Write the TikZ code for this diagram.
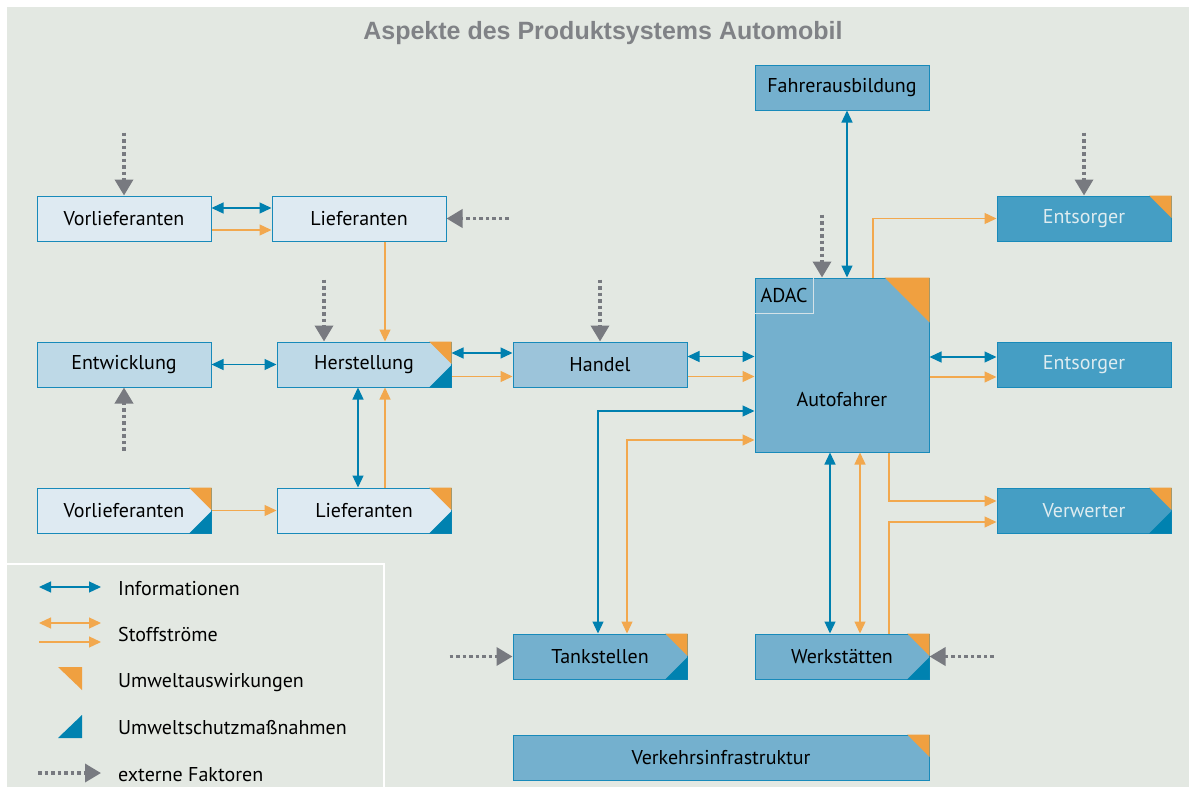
\documentclass[tikz,border=0pt]{standalone}
\usepackage{fontspec}
\setmainfont{PT Sans}
\newfontfamily\titlefont{Liberation Sans}
\usetikzlibrary{arrows.meta}

\begin{document}
\begin{tikzpicture}[x=1pt,y=-1pt,
  box/.style={draw=edge,line width=1pt,minimum width=174pt,minimum height=45pt,inner sep=0pt,
    font=\fontsize{20}{24}\selectfont,text=black},
  info/.style={infoblue,line width=1.3pt,{Triangle[length=12pt,width=11pt]}-{Triangle[length=12pt,width=11pt]}},
  stoff/.style={stofflinie,line width=1.3pt,-{Triangle[length=12pt,width=11pt]}},
  stoffzwei/.style={stofflinie,line width=1.3pt,{Triangle[length=12pt,width=11pt]}-{Triangle[length=12pt,width=11pt]}},
  extern/.style={extgray,line width=3.5pt,dash pattern=on 3.5pt off 3pt,-{Triangle[length=16pt,width=18pt]}},
  legende/.style={anchor=base west,inner sep=0pt,font=\fontsize{20}{24}\selectfont}]

\definecolor{bgray}{RGB}{227,232,226}
\definecolor{boxA}{RGB}{222,234,242}
\definecolor{boxB}{RGB}{190,217,231}
\definecolor{boxC}{RGB}{156,196,218}
\definecolor{boxD}{RGB}{116,176,206}
\definecolor{boxE}{RGB}{69,158,196}
\definecolor{edge}{RGB}{24,138,186}
\definecolor{adacedge}{RGB}{212,226,232}
\definecolor{infoblue}{RGB}{0,128,175}
\definecolor{stofflinie}{RGB}{242,168,78}
\definecolor{umweltorange}{RGB}{240,160,64}
\definecolor{schutzblau}{RGB}{0,130,176}
\definecolor{extgray}{RGB}{120,122,128}
\definecolor{titlegray}{RGB}{128,130,134}
\definecolor{textlight}{RGB}{222,236,240}

\useasboundingbox (0,0) rectangle (1189,787);
\fill[white] (0,0) rectangle (1189,787);
\fill[bgray] (7,7) rectangle (1189,787);

\node[anchor=base,text=titlegray,font=\titlefont\bfseries\fontsize{25}{30}\selectfont] (titel) at (603,39) {Aspekte des Produktsystems Automobil};

\node[box,fill=boxA] (vorlief1) at (124,218.5) {Vorlieferanten};
\node[box,fill=boxA] (lief1) at (359,218.5) {Lieferanten};
\node[box,fill=boxB] (entw) at (124,364.5) {Entwicklung};
\node[box,fill=boxB] (herst) at (364,364.5) {Herstellung};
\node[box,fill=boxA] (vorlief2) at (124,510.5) {Vorlieferanten};
\node[box,fill=boxA] (lief2) at (364,510.5) {Lieferanten};
\node[box,fill=boxC] (handel) at (600,364.5) {Handel};
\node[box,fill=boxD,minimum height=174pt] (autof) at (842,365) {};
\node[box,draw=none] (autoftxt) at (842,399.5) {Autofahrer};
\node[box,draw=none,minimum width=58pt,minimum height=35pt,anchor=north west] (adac) at (autof.north west) {ADAC};
\draw[adacedge,line width=1.2pt] (adac.north east) -- (adac.south east) -- (adac.south west);
\node[box,fill=boxD] (fahrer) at (842,87.5) {Fahrerausbildung};
\node[box,fill=boxE,text=textlight] (ents1) at (1084,218.5) {Entsorger};
\node[box,fill=boxE,text=textlight] (ents2) at (1084,364.5) {Entsorger};
\node[box,fill=boxE,text=textlight] (verw) at (1084,510.5) {Verwerter};
\node[box,fill=boxD] (tank) at (600,656.5) {Tankstellen};
\node[box,fill=boxD] (werk) at (842,656.5) {Werkstätten};
\node[box,fill=boxD,minimum width=416pt] (verkehr) at (721,757.5) {Verkehrsinfrastruktur};

\newcommand{\umwelt}[2]{\fill[umweltorange] (#1.north east) -- ([xshift=-#2pt]#1.north east) -- ([yshift=-#2pt]#1.north east) -- cycle;}
\newcommand{\schutz}[2]{\fill[schutzblau] (#1.south east) -- ([xshift=-#2pt]#1.south east) -- ([yshift=#2pt]#1.south east) -- cycle;}

\foreach \n in {herst,vorlief2,lief2,ents1,verw,tank,werk,verkehr}{
  \umwelt{\n}{22.5}
}
\umwelt{autof}{45}
\foreach \n in {herst,vorlief2,lief2,verw,tank,werk}{
  \schutz{\n}{22.5}
}

\draw[info] ([yshift=10.5pt]vorlief1.east) -- ([yshift=10.5pt]vorlief1.east -| lief1.west);
\draw[stoff] ([yshift=-11.5pt]vorlief1.east) -- ([yshift=-11.5pt]vorlief1.east -| lief1.west);
\draw[stoff] ([xshift=26pt]lief1.south) -- ([xshift=26pt]lief1.south |- herst.north);
\draw[info] (entw) -- (herst);
\draw[info] ([yshift=11.5pt]herst.east) -- ([yshift=11.5pt]herst.east -| handel.west);
\draw[stoff] ([yshift=-12pt]herst.east) -- ([yshift=-12pt]herst.east -| handel.west);
\draw[info] ([xshift=-6pt]herst.south) -- ([xshift=-6pt]herst.south |- lief2.north);
\draw[stoff] ([xshift=21pt]lief2.north) -- ([xshift=21pt]lief2.north |- herst.south);
\draw[stoff] (vorlief2) -- (lief2);
\draw[info] ([yshift=8pt]handel.east) -- ([yshift=8pt]handel.east -| autof.west);
\draw[stoff] ([yshift=-12pt]handel.east) -- ([yshift=-12pt]handel.east -| autof.west);
\draw[info] ([xshift=-2pt]tank.north) |- ([yshift=-46pt]autof.west);
\draw[stoffzwei] ([xshift=27pt]tank.north) |- ([yshift=-75pt]autof.west);
\draw[info] ([xshift=-12pt]autof.south) -- ([xshift=-12pt]autof.south |- werk.north);
\draw[stoffzwei] ([xshift=18pt]autof.south) -- ([xshift=18pt]autof.south |- werk.north);
\draw[stoff] ([xshift=47pt]autof.south) |- ([yshift=9.5pt]verw.west);
\draw[stoff] ([xshift=47pt]werk.north) |- ([yshift=-11.5pt]verw.west);
\draw[info] ([yshift=8pt]autof.east) -- ([yshift=8pt]autof.east -| ents2.west);
\draw[stoff] ([yshift=-12pt]autof.east) -- ([yshift=-12pt]autof.east -| ents2.west);
\draw[stoff] ([xshift=31pt]autof.north) |- (ents1.west);
\draw[info] ([xshift=5pt]fahrer.south) -- ([xshift=5pt]fahrer.south |- autof.north);

\draw[extern] ([yshift=63pt]vorlief1.north) -- (vorlief1.north);
\draw[extern] ([xshift=62pt]lief1.east) -- (lief1.east);
\draw[extern] ([xshift=-40pt,yshift=62pt]herst.north) -- ([xshift=-40pt]herst.north);
\draw[extern] ([yshift=-63pt]entw.south) -- (entw.south);
\draw[extern] ([yshift=62pt]handel.north) -- (handel.north);
\draw[extern] ([xshift=-20pt,yshift=63pt]autof.north) -- ([xshift=-20pt]autof.north);
\draw[extern] ([yshift=63pt]ents1.north) -- (ents1.north);
\draw[extern] ([xshift=-63pt]tank.west) -- (tank.west);
\draw[extern] ([xshift=64pt]werk.east) -- (werk.east);

\draw[white,line width=1.5pt] (384,787) -- (384,564) -- (7,564);
\draw[info] (39,587) -- (101,587);
\draw[stoffzwei] (39,623) -- (101,623);
\draw[stoff] (39,642) -- (101,642);
\fill[umweltorange] (58,667) -- (82,667) -- (82,690) -- cycle;
\fill[schutzblau] (58,738) -- (82,738) -- (82,715) -- cycle;
\draw[extern] (38,773) -- (101,773);
\foreach \y/\t in {595/Informationen,641/Stoffströme,687/Umweltauswirkungen,734/Umweltschutzmaßnahmen,781/externe Faktoren}
  \node[legende] (leg\y) at (118,\y) {\t};

\end{tikzpicture}
\end{document}
